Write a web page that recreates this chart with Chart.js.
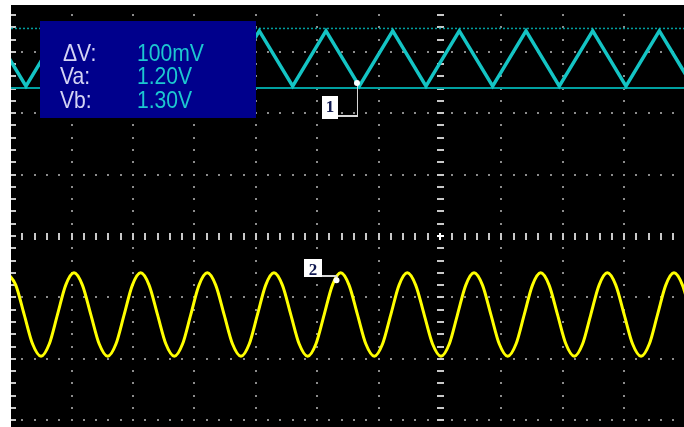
<!DOCTYPE html>
<html>
<head>
<meta charset="utf-8">
<script src="https://cdn.jsdelivr.net/npm/chart.js@4/dist/chart.umd.min.js"></script>
<style>
  html, body { margin: 0; padding: 0; background: #ffffff; }
  #wrap { width: 684px; height: 427px; }
</style>
</head>
<body>
<div id="wrap"><canvas id="scope" width="684" height="427"></canvas></div>
<script>
// Screen units are graticule divisions, origin at the centre of the graticule.
// Channel 1: triangle wave vertices (peaks and troughs).
const CH1_X = [-7.287, -6.743, -6.200, -5.656, -5.114, -4.572, -4.028, -3.485, -2.943, -2.399,
               -1.857, -1.314, -0.770, -0.228, 0.314, 0.858, 1.401, 1.943, 2.487, 3.029, 3.572, 4.116];
const CH1_Y = [3.34, 2.44, 3.34, 2.44, 3.34, 2.44, 3.34, 2.44, 3.34, 2.44,
               3.34, 2.44, 3.34, 2.44, 3.34, 2.44, 3.34, 2.44, 3.34, 2.44, 3.34, 2.44];

// Channel 2: sine wave samples (peak, shoulder, mid-level, shoulder, trough, ...).
const CH2_X = [
  -7.046, -6.909, -6.772, -6.635, -6.498, -6.364, -6.230, -6.096,
  -5.961, -5.824, -5.687, -5.550, -5.412, -5.278, -5.144, -5.010,
  -4.875, -4.738, -4.601, -4.464, -4.327, -4.193, -4.059, -3.925,
  -3.790, -3.653, -3.516, -3.379, -3.241, -3.107, -2.973, -2.839,
  -2.704, -2.567, -2.430, -2.293, -2.155, -2.021, -1.886, -1.752,
  -1.617, -1.481, -1.344, -1.207, -1.070, -0.936, -0.801, -0.667,
  -0.533, -0.396, -0.258, -0.121,  0.016,  0.151,  0.285,  0.420,
   0.554,  0.692,  0.829,  0.966,  1.103,  1.238,  1.372,  1.506,
   1.640,  1.777,  1.914,  2.051,  2.187,  2.322,  2.456,  2.591,
   2.725,  2.863,  3.000,  3.137,  3.274,  3.409,  3.543,  3.677,
   3.811,  3.949,  4.086,  4.223,  4.360];
const CH2_Y = [
  -0.60, -0.80, -1.28, -1.76, -1.96, -1.76, -1.28, -0.80,
  -0.60, -0.80, -1.28, -1.76, -1.96, -1.76, -1.28, -0.80,
  -0.60, -0.80, -1.28, -1.76, -1.96, -1.76, -1.28, -0.80,
  -0.60, -0.80, -1.28, -1.76, -1.96, -1.76, -1.28, -0.80,
  -0.60, -0.80, -1.28, -1.76, -1.96, -1.76, -1.28, -0.80,
  -0.60, -0.80, -1.28, -1.76, -1.96, -1.76, -1.28, -0.80,
  -0.60, -0.80, -1.28, -1.76, -1.96, -1.76, -1.28, -0.80,
  -0.60, -0.80, -1.28, -1.76, -1.96, -1.76, -1.28, -0.80,
  -0.60, -0.80, -1.28, -1.76, -1.96, -1.76, -1.28, -0.80,
  -0.60, -0.80, -1.28, -1.76, -1.96, -1.76, -1.28, -0.80,
  -0.60, -0.80, -1.28, -1.76, -1.96];

// Voltage cursors (divisions) and their readout.
const CURSOR_A = 2.41;   // Va
const CURSOR_B = 3.38;   // Vb
const READOUT_LABELS = ['\u0394V:', 'Va:', 'Vb:'];
const READOUT_VALUES = ['100mV', '1.20V', '1.30V'];

// Channel reference markers: label and the trace point they point at.
const MARKER_LABELS = ['1', '2'];
const MARKER_X = [-1.352, -1.686];
const MARKER_Y = [2.49, -0.72];

// Visible screen extent in divisions.
const X_MIN = -6.987, X_MAX = 3.974;
const Y_MIN = -3.111, Y_MAX = 3.762;

const toPts = (xs, ys) => xs.map((x, i) => ({ x: x, y: ys[i] }));

const scopePlugin = {
  id: 'scope',
  beforeDraw(chart) {
    const { ctx, chartArea: a } = chart;
    ctx.save();
    ctx.fillStyle = '#ffffff';
    ctx.fillRect(0, 0, chart.width, chart.height);
    ctx.fillStyle = '#000000';
    ctx.fillRect(a.left, a.top, a.right - a.left, a.bottom - a.top);
    ctx.restore();
  },
  beforeDatasetsDraw(chart) {
    const { ctx, chartArea: a, scales: { x: xs, y: ys } } = chart;
    ctx.save();
    ctx.beginPath();
    ctx.rect(a.left, a.top, a.right - a.left, a.bottom - a.top);
    ctx.clip();
    const px = v => Math.round(xs.getPixelForValue(v));
    const py = v => Math.round(ys.getPixelForValue(v));
    const minor = [];
    for (let k = -60; k <= 60; k++) minor.push(k / 5);
    // dotted major lines
    ctx.fillStyle = '#8c8c8c';
    for (let gx = -7; gx <= 4; gx++) {
      if (gx === 0) continue;
      const X = px(gx);
      minor.forEach(m => { if (m >= Y_MIN && m <= Y_MAX) ctx.fillRect(X - 1, py(m) - 1, 2, 2); });
    }
    for (let gy = -4; gy <= 4; gy++) {
      if (gy === 0) continue;
      const Y = py(gy);
      minor.forEach(m => { if (m >= X_MIN && m <= X_MAX) ctx.fillRect(px(m) - 1, Y - 1, 2, 2); });
    }
    // centre axes with minor ticks
    ctx.fillStyle = '#c8c8c8';
    const cx = px(0), cy = py(0);
    minor.forEach(m => {
      if (m >= Y_MIN && m <= Y_MAX) ctx.fillRect(cx - 3, py(m) - 1, 7, 2);
      if (m >= X_MIN && m <= X_MAX) ctx.fillRect(px(m) - 1, cy - 3, 2, 7);
    });
    ctx.fillStyle = '#ffffff';
    ctx.fillRect(cx - 3, cy - 1, 7, 2);
    ctx.fillRect(cx - 1, cy - 3, 2, 7);
    // left edge ticks
    ctx.fillStyle = '#c8c8c8';
    minor.forEach(m => { if (m >= Y_MIN && m <= Y_MAX) ctx.fillRect(a.left, py(m) - 1, 5, 2); });
    ctx.restore();
  },
  afterDatasetsDraw(chart) {
    const { ctx, scales: { x: xs, y: ys } } = chart;
    ctx.save();
    // cursor readout panel
    ctx.fillStyle = '#00008c';
    ctx.fillRect(40, 21, 216, 97);
    const rows = [61, 84, 108];
    const labelX = [63, 60, 60];
    ctx.font = '24px "Liberation Sans", Arial, sans-serif';
    ctx.textBaseline = 'alphabetic';
    rows.forEach((b, i) => {
      ctx.save();
      ctx.translate(labelX[i], b);
      ctx.scale(0.88, 1);
      ctx.fillStyle = '#d4d4f4';
      ctx.fillText(READOUT_LABELS[i], 0, 0);
      ctx.restore();
      ctx.save();
      ctx.translate(137, b);
      ctx.scale(0.88, 1);
      ctx.fillStyle = '#1cc8d0';
      ctx.fillText(READOUT_VALUES[i], 0, 0);
      ctx.restore();
    });
    // channel markers
    MARKER_LABELS.forEach((lab, i) => {
      const mx = xs.getPixelForValue(MARKER_X[i]);
      const my = ys.getPixelForValue(MARKER_Y[i]);
      ctx.strokeStyle = '#d8d8d8';
      ctx.fillStyle = '#ffffff';
      let bx, by, bw, bh;
      if (i === 0) {
        bx = 322; by = 96; bw = 16; bh = 23;
        ctx.fillRect(bx, by, bw, bh);
        ctx.lineWidth = 2;
        ctx.beginPath();
        ctx.moveTo(bx + bw, 116);
        ctx.lineTo(mx + 0.5, 116);
        ctx.stroke();
        ctx.lineWidth = 1;
        ctx.beginPath();
        ctx.moveTo(mx + 0.5, 117);
        ctx.lineTo(mx + 0.5, my);
        ctx.stroke();
      } else {
        bx = 304; by = 259; bw = 18; bh = 18;
        ctx.fillRect(bx, by, bw, bh);
        ctx.lineWidth = 2;
        ctx.beginPath();
        ctx.moveTo(bx + bw, 276);
        ctx.lineTo(mx, 276);
        ctx.lineTo(mx, my);
        ctx.stroke();
      }
      ctx.fillStyle = '#ffffff';
      ctx.beginPath();
      ctx.arc(mx, my, 3, 0, Math.PI * 2);
      ctx.fill();
      ctx.fillStyle = '#101850';
      ctx.font = 'bold 17px "Liberation Serif", serif';
      ctx.textAlign = 'center';
      ctx.fillText(lab, bx + bw / 2, by + 16);
      ctx.textAlign = 'left';
    });
    ctx.restore();
  }
};

new Chart(document.getElementById('scope'), {
  type: 'line',
  data: {
    datasets: [
      { label: 'CH1', data: toPts(CH1_X, CH1_Y), borderColor: '#14c4c4', borderWidth: 3.5,
        pointRadius: 0, tension: 0, fill: false },
      { label: 'CH2', data: toPts(CH2_X, CH2_Y), borderColor: '#ffff00', borderWidth: 3,
        pointRadius: 0, cubicInterpolationMode: 'monotone', fill: false },
      { label: 'Va', data: [{ x: X_MIN, y: CURSOR_A }, { x: X_MAX, y: CURSOR_A }],
        borderColor: '#00a0a0', borderWidth: 2, pointRadius: 0, fill: false },
      { label: 'Vb', data: [{ x: X_MIN, y: CURSOR_B }, { x: X_MAX, y: CURSOR_B }],
        borderColor: '#00a0a0', borderWidth: 1.5, borderDash: [2, 2], pointRadius: 0, fill: false }
    ]
  },
  options: {
    responsive: false,
    animation: false,
    events: [],
    layout: { padding: { left: 11, top: 5, right: 0, bottom: 0 } },
    plugins: { legend: { display: false }, tooltip: { enabled: false } },
    scales: {
      x: { type: 'linear', min: X_MIN, max: X_MAX, display: false },
      y: { type: 'linear', min: Y_MIN, max: Y_MAX, display: false }
    }
  },
  plugins: [scopePlugin]
});
</script>
</body>
</html>
